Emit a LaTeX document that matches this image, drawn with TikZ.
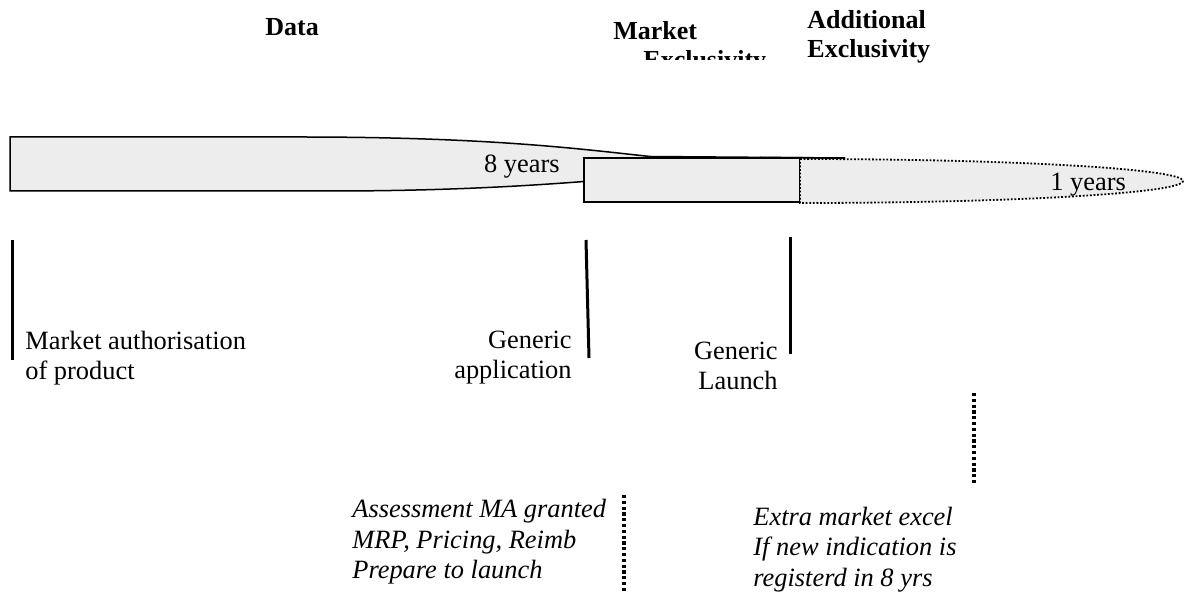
\documentclass[tikz,border=0pt]{standalone}
\usepackage{fontspec}
\setmainfont{Liberation Serif}
\definecolor{barfill}{HTML}{EDEDED}
\begin{document}
\begin{tikzpicture}[x=0.5pt, y=-0.5pt,
  barshape/.style={draw=black, fill=barfill, line width=0.75pt},
  dotshape/.style={draw=black, fill=barfill, line width=0.9pt, dash pattern=on 0.9pt off 0.9pt},
  solidmark/.style={line width=1.5pt},
  dotmark/.style={line width=2pt, dash pattern=on 1.6pt off 1.3pt},
  headlabel/.style={font=\fontsize{13}{14.5}\selectfont\bfseries, inner sep=0pt, align=left},
  plainlabel/.style={font=\fontsize{13.2}{15}\selectfont, inner sep=0pt},
  notelabel/.style={font=\fontsize{13.2}{15}\selectfont\itshape, inner sep=0pt, align=left}]
\useasboundingbox (0,0) rectangle (1188,592);
\draw[barshape] (10,137) -- (300,137) .. controls (490,137) and (580,149) .. (650,156.5) -- (845,158) -- (584,181.5) .. controls (500,188) and (420,191) .. (330,191) -- (10,191) -- cycle;
\draw[barshape] (584,158) rectangle (800,202);
\draw[dotshape] (800,159) arc[start angle=-90, end angle=90, x radius=383, y radius=22] -- cycle;
\draw[line width=0.75pt] (760,157.5) -- (845,158);
\node[plainlabel, anchor=base east] (eightyrs) at (560,173) {8 years};
\node[plainlabel, anchor=base west] (oneyrs) at (1050,191) {1 years};
\node[headlabel, anchor=base west] (data) at (265,36) {Data};
\begin{scope}
\clip (600,0) rectangle (800,60);
\node[headlabel, anchor=base west] (mktexcl) at (613,69) {Market\\\hspace*{15pt}Exclusivity};
\end{scope}
\node[headlabel, anchor=base west] (addexcl) at (807,58) {Additional\\Exclusivity};
\coordinate (maTop) at (12,240);
\coordinate (maBot) at (12,360);
\coordinate (appTop) at (586,240);
\coordinate (appBot) at (589,358);
\coordinate (launchTop) at (790,237);
\coordinate (launchBot) at (790,354);
\coordinate (extraTop) at (974,393);
\coordinate (extraBot) at (974,485);
\coordinate (assessTop) at (624,495);
\coordinate (assessBot) at (624,592);
\draw[solidmark] (maTop) -- (maBot);
\draw[solidmark] (appTop) -- (appBot);
\draw[solidmark] (launchTop) -- (launchBot);
\draw[dotmark] (extraTop) -- (extraBot);
\draw[dotmark] (assessTop) -- (assessBot);
\node[plainlabel, align=left, anchor=base west] (maLabel) at (25,380) {Market authorisation\\of product};
\node[plainlabel, align=right, anchor=base east] (appLabel) at (572,379) {Generic\\application};
\node[plainlabel, align=right, anchor=base east] (launchLabel) at (778,390) {Generic\\Launch};
\node[notelabel, anchor=base west] (assessNote) at (352,578) {Assessment MA granted\\MRP, Pricing, Reimb\\Prepare to launch};
\node[notelabel, anchor=base west] (extraNote) at (753,586) {Extra market excel\\If new indication is\\registerd in 8 yrs};
\end{tikzpicture}
\end{document}
